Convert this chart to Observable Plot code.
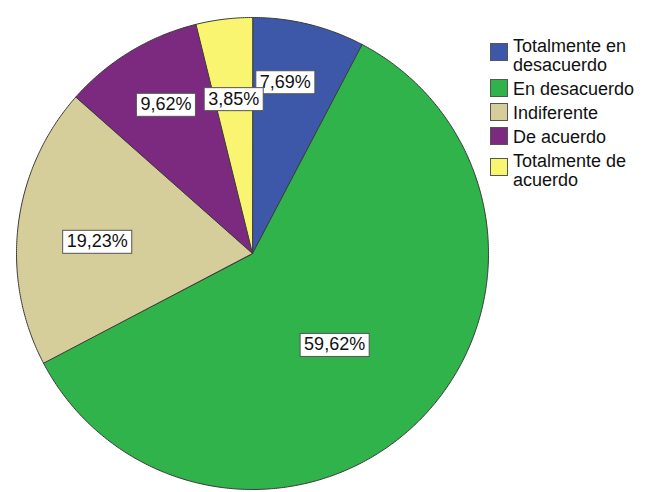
<!DOCTYPE html>
<html>
<head>
<meta charset="utf-8">
<script src="https://cdn.jsdelivr.net/npm/d3@7"></script>
<script src="https://cdn.jsdelivr.net/npm/@observablehq/plot@0.6"></script>
<style>
  html, body { margin: 0; padding: 0; background: #fff; }
  #wrap { position: relative; width: 649px; height: 492px; font-family: Arial, "Liberation Sans", sans-serif; }
  #legend { position: absolute; left: 490px; top: 37px; width: 150px; font-size: 18px; line-height: 19px; color: #111; }
  .item { display: flex; margin-bottom: 5px; }
  .sw { flex: none; width: 16px; height: 16px; border: 1px solid #555; margin-right: 5px; }
  .txt { width: 128px; }
</style>
</head>
<body>
<div id="wrap"><div id="legend"></div></div>
<script>
// ---- data ----
const categories = ["Totalmente en desacuerdo", "En desacuerdo", "Indiferente", "De acuerdo", "Totalmente de acuerdo"];
const percents = [7.69, 59.62, 19.23, 9.62, 3.85];
const colors = ["#3D57A9", "#2FB34A", "#D5CE9B", "#7C2A7F", "#FAF571"];

// ---- layout (not data) ----
const W = 649, H = 492, CX = 252, CY = 253, R = 236;
const labelR = [0.74, 0.52, 0.66, 0.73, 0.66];
const labelDeg = [-3, 3, -2.5, 1, 0];

const table = categories.map((c, i) => ({cat: c, value: percents[i]}));
const arcs = d3.pie().sort(null).value(d => d.value).startAngle(0).endAngle(2 * Math.PI)(table);

const points = [];
arcs.forEach(a => {
  points.push({cat: a.data.cat, x: 0, y: 0});
  const n = Math.max(2, Math.ceil((a.endAngle - a.startAngle) / (Math.PI / 360)));
  for (let k = 0; k <= n; k++) {
    const t = a.startAngle + (a.endAngle - a.startAngle) * k / n;
    points.push({cat: a.data.cat, x: Math.sin(t), y: Math.cos(t)});
  }
});

const labels = arcs.map((a, i) => {
  const m = (a.startAngle + a.endAngle) / 2 + labelDeg[i] * Math.PI / 180;
  return {x: labelR[i] * Math.sin(m), y: labelR[i] * Math.cos(m),
          text: a.data.value.toFixed(2).replace(".", ",") + "%"};
});

const chart = Plot.plot({
  width: W, height: H,
  margin: 0,
  x: {domain: [-CX / R, (W - CX) / R], axis: null},
  y: {domain: [-(H - CY) / R, CY / R], axis: null},
  color: {domain: categories, range: colors},
  style: {fontFamily: 'Arial, "Liberation Sans", sans-serif', background: "#fff"},
  marks: [
    Plot.line(points, {x: "x", y: "y", z: "cat", fill: "cat", stroke: "#3a3a3a", strokeWidth: 1, curve: "linear-closed"}),
    Plot.text(labels, {x: "x", y: "y", text: "text", fontSize: 18, fill: "#111", className: "lbl"})
  ]
});
document.getElementById("wrap").prepend(chart);

// white boxes behind pie labels
chart.querySelectorAll("g.lbl text").forEach(t => {
  const b = t.getBBox();
  const r = document.createElementNS("http://www.w3.org/2000/svg", "rect");
  r.setAttribute("x", b.x - 4); r.setAttribute("y", b.y - 1);
  r.setAttribute("width", b.width + 8); r.setAttribute("height", b.height + 3);
  r.setAttribute("fill", "#fff"); r.setAttribute("stroke", "#555"); r.setAttribute("stroke-width", 1);
  const tr = t.getAttribute("transform");
  if (tr) r.setAttribute("transform", tr);
  t.parentNode.insertBefore(r, t);
});

// legend
const leg = document.getElementById("legend");
categories.forEach((c, i) => {
  const it = document.createElement("div"); it.className = "item";
  const sw = document.createElement("div"); sw.className = "sw"; sw.style.background = colors[i];
  const tx = document.createElement("div"); tx.className = "txt"; tx.textContent = c;
  it.append(sw, tx); leg.append(it);
  const twoLine = tx.getBoundingClientRect().height > 25;
  sw.style.marginTop = twoLine ? "6px" : "-1px";
});
</script>
</body>
</html>
